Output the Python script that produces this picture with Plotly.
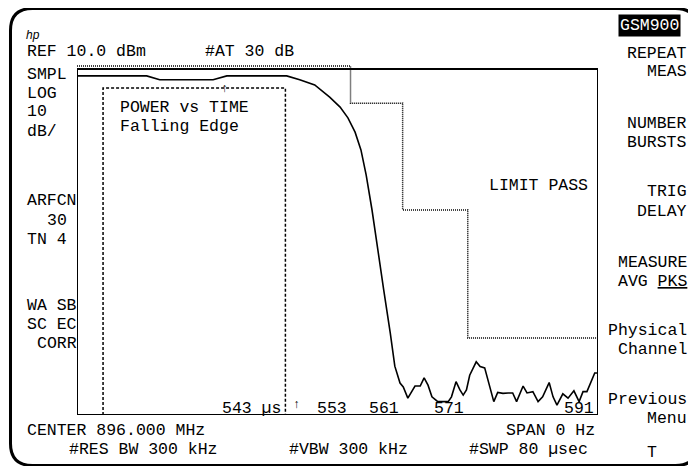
import plotly.graph_objects as go

# ---------------- data ----------------
# measured trace (time in microseconds, level in dBm)
time_us = [511.0, 521.7, 523.7, 531.9, 534.0, 543.2, 545.2, 547.5, 549.8, 551.4,
           552.6, 553.7, 554.6, 555.4, 556.3, 557.2, 558.1, 559.1, 559.8, 560.6,
           561.1, 561.8, 562.9, 563.7, 564.3, 564.9, 565.5, 566.4, 568.0, 568.5,
           569.2, 569.8, 570.3, 570.8, 571.3, 572.3, 572.9, 573.6, 574.4, 575.0,
           575.6, 576.4, 577.2, 577.9, 578.5, 579.5, 580.1, 581.0, 581.8, 582.5,
           583.5, 584.1, 584.7, 585.6, 586.4, 587.3, 588.1, 588.7, 589.3, 589.9,
           590.5, 591.0]
level_dbm = [8.4, 8.4, 7.5, 7.5, 8.4, 8.4, 7.5, 6.3, 3.5, 1.2,
             -1.3, -4.6, -8.7, -14.5, -22.6, -32.3, -41.1, -51.0, -58.7, -62.6,
             -63.5, -66.1, -63.3, -63.3, -61.4, -63.1, -65.8, -66.9, -66.9, -65.8,
             -62.3, -64.2, -65.4, -64.2, -60.8, -57.7, -58.8, -59.1, -63.5, -66.9,
             -64.8, -65.0, -64.9, -64.9, -66.9, -63.3, -64.9, -64.6, -66.9, -65.8,
             -62.5, -65.8, -67.7, -65.1, -66.1, -64.4, -66.9, -64.6, -64.6, -62.6,
             -60.3, -60.3]

# limit mask (step starts)
limit_time = [511, 553, 561, 571, 591]
limit_level = [10.7, 2.1, -22.6, -52.2, -52.2]

# measurement window
window_start = 515.0
window_end = 543.0
window_top = 5.6

# time labels along the bottom of the graticule
time_label_pos = [543, 553, 561, 571, 591]
time_label_text = ["543 µs", "553", "561", "571", "591"]

# screen settings
ref_level = 10.0
db_per_div = 10.0
n_div = 8
t_start, t_stop = 511.0, 591.0

# ---------------- layout geometry ----------------
W, H = 696, 466
PAGE_OFF = 8          # default page margin of the html body
L_PX, R_PX, T_PX, B_PX = 77, 598, 62, 415
FRAME_TOP_PX = 69
bottom_level = ref_level - db_per_div * n_div
px_per_db = (B_PX - FRAME_TOP_PX) / (ref_level - bottom_level)
y_top = ref_level + (FRAME_TOP_PX - T_PX) / px_per_db

FONT = "Liberation Mono"
FS = 16.5
ROW = 19


def px(x):
    return (x - L_PX) / (R_PX - L_PX)


def py(y):
    return (B_PX - y) / (B_PX - T_PX)


fig = go.Figure()

# limit line
fig.add_trace(go.Scatter(x=limit_time, y=limit_level, mode="lines",
                         line=dict(color="black", width=1.5, dash="1px,1px", shape="hv"),
                         hoverinfo="skip", showlegend=False))
# measurement window
fig.add_trace(go.Scatter(x=[window_start, window_start, window_end, window_end],
                         y=[bottom_level, window_top, window_top, bottom_level],
                         mode="lines",
                         line=dict(color="black", width=1.5, dash="3px,2px"),
                         hoverinfo="skip", showlegend=False))
# trace
fig.add_trace(go.Scatter(x=time_us, y=level_dbm, mode="lines",
                         line=dict(color="black", width=1.6),
                         hoverinfo="skip", showlegend=False))

shapes = []
# graticule frame
shapes.append(dict(type="rect", xref="x", yref="y", x0=t_start, x1=t_stop,
                   y0=bottom_level, y1=ref_level, line=dict(color="black", width=2),
                   layer="above"))

# rounded outer bezel
bl, bt, br, bb, r = 10.5, 8.5, 697.5, 465.5, 22


def P(x, y):
    return f"{px(x):.5f},{py(y):.5f}"


path = (f"M {P(bl, bt + r)} Q {P(bl, bt)} {P(bl + r, bt)} L {P(br - r, bt)} "
        f"Q {P(br, bt)} {P(br, bt + r)} L {P(br, bb - r)} Q {P(br, bb)} {P(br - r, bb)} "
        f"L {P(bl + r, bb)} Q {P(bl, bb)} {P(bl, bb - r)} Z")
shapes.append(dict(type="path", xref="paper", yref="paper", path=path,
                   line=dict(color="black", width=3)))

annotations = []


def txt(s, x, y, anchor="left", size=FS, family=FONT, color="black", **kw):
    annotations.append(dict(text=s, x=px(x), y=py(y), xref="paper", yref="paper",
                            xanchor=anchor, yanchor="middle", showarrow=False,
                            font=dict(family=family, size=size, color=color), **kw))


def stack(lines, x, y_first, anchor="left", xs=None):
    for i, s in enumerate(lines):
        xx = x if xs is None else xs[i]
        txt(s, xx, y_first + i * ROW, anchor=anchor)


# header
txt("<i>hp</i>", 24, 35, size=12, family="Liberation Sans")
txt("REF 10.0 dBm", 25, 52)
txt("#AT 30 dB", 203, 52)
txt("GSM900", 681, 25, anchor="right", color="white", bgcolor="black", borderpad=1)

# left column
stack(["SMPL", "LOG", "10", "dB/"], 25, 74)
stack(["ARFCN", "30", "TN 4"], 25, 201, xs=[25, 45, 25])
stack(["WA SB", "SC EC", "CORR"], 25, 305, xs=[25, 25, 35])

# inside graticule
stack(["POWER vs TIME", "Falling Edge"], 118, 107)
txt("LIMIT PASS", 590, 185, anchor="right")
txt("↑", 224, 89, anchor="center", size=12)
txt("↑", 296, 405, anchor="center", size=12)

for t, s in zip(time_label_pos, time_label_text):
    annotations.append(dict(text=s, x=t, y=py(408), xref="x", yref="paper",
                            xanchor="right", yanchor="middle", xshift=-2, showarrow=False,
                            font=dict(family=FONT, size=FS, color="black")))

# soft keys
soft = [("REPEAT", "MEAS"), ("NUMBER", "BURSTS"), ("TRIG", "DELAY"),
        ("MEASURE", "AVG <u>PKS</u>"), ("Physical", "Channel"), ("Previous", "Menu")]
rows = [53, 123, 192, 262, 330, 399]
for pair, yy in zip(soft, rows):
    stack(list(pair), 689, yy, anchor="right")
txt("T", 652, 452, anchor="center")

# footer
txt("CENTER 896.000 MHz", 25, 430)
txt("SPAN 0 Hz", 597, 430, anchor="right")
txt("#RES BW 300 kHz", 67, 449)
txt("#VBW 300 kHz", 287, 449)
txt("#SWP 80 µsec", 467, 449)

fig.update_layout(
    width=W - PAGE_OFF, height=H - PAGE_OFF, autosize=False,
    margin=dict(l=L_PX - PAGE_OFF, r=W - R_PX, t=T_PX - PAGE_OFF, b=H - B_PX, pad=0),
    paper_bgcolor="white", plot_bgcolor="white",
    xaxis=dict(range=[t_start, t_stop], visible=False, fixedrange=True),
    yaxis=dict(range=[bottom_level, y_top], visible=False, fixedrange=True),
    shapes=shapes, annotations=annotations, showlegend=False,
)

fig.write_html("out.html", config={"displayModeBar": False})
